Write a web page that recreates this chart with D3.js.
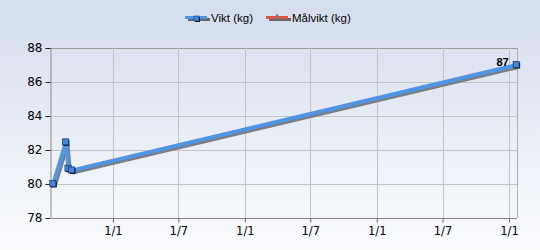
<!DOCTYPE html>
<html><head><meta charset="utf-8">
<script src="https://cdn.jsdelivr.net/npm/d3@7"></script>
<style>html,body{margin:0;padding:0;overflow:hidden}svg{display:block}</style>
</head><body>
<svg id="c" width="540" height="250"></svg>
<script>
const seriesNames = ["Vikt (kg)", "Målvikt (kg)"];
const viktDates = ["2009-07-20", "2009-08-24", "2009-08-31", "2009-09-10", "2013-01-22"];
const viktValues = [80.0, 82.45, 80.9, 80.8, 87.0];
const malviktDates = [];
const malviktValues = [];
const yTicks = [78, 80, 82, 84, 86, 88];
const xDomain = ["2009-07-11", "2013-01-23"];

const parse = d3.timeParse("%Y-%m-%d");
const vikt = viktDates.map((d, i) => ({date: parse(d), value: viktValues[i]}));

const svg = d3.select("#c");
const W = 540, H = 250;
const m = {left: 50, right: 23, top: 48, bottom: 32};
const defs = svg.append("defs");
const g1 = defs.append("linearGradient").attr("id", "bg").attr("x1", 0).attr("y1", 0).attr("x2", 0).attr("y2", 1);
g1.append("stop").attr("offset", "0%").attr("stop-color", "#d3ddee");
g1.append("stop").attr("offset", "100%").attr("stop-color", "#fbfcfe");
svg.append("rect").attr("width", W).attr("height", H).attr("fill", "url(#bg)");

const x = d3.scaleTime().domain(xDomain.map(parse)).range([m.left, W - m.right]);
const y = d3.scaleLinear().domain([78, 88]).range([H - m.bottom, m.top]);

const xTicks = d3.timeMonth.every(6).range(parse(xDomain[0]), parse(xDomain[1]));
const tickFont = "DejaVu Sans, Verdana, sans-serif";

// grid
svg.append("g").selectAll("line").data(yTicks.slice(1)).join("line")
  .attr("x1", m.left).attr("x2", W - m.right)
  .attr("y1", d => y(d) + 0.5).attr("y2", d => y(d) + 0.5)
  .attr("stroke", d => d === 88 ? "#9a9a9a" : "#c4c4c4").attr("stroke-width", 1);
svg.append("g").selectAll("line").data(xTicks).join("line")
  .attr("x1", d => Math.round(x(d)) + 0.5).attr("x2", d => Math.round(x(d)) + 0.5)
  .attr("y1", m.top).attr("y2", H - m.bottom)
  .attr("stroke", "#c4c4c4");
// right border
svg.append("line").attr("x1", W - m.right + 0.5).attr("x2", W - m.right + 0.5)
  .attr("y1", m.top).attr("y2", H - m.bottom).attr("stroke", "#b0b0b0");

// axes
const yAxis = d3.axisLeft(y).tickValues(yTicks).tickSize(5).tickPadding(3);
const ya = svg.append("g").attr("transform", `translate(${m.left + 0.5},0)`).call(yAxis);
ya.select(".domain").attr("stroke", "#888");
ya.selectAll(".tick line").attr("stroke", "#222");
ya.selectAll("text").attr("font-family", tickFont).attr("font-size", 12).attr("fill", "#000");

const xAxis = d3.axisBottom(x).tickValues(xTicks).tickFormat(d3.timeFormat("%-d/%-m")).tickSize(4).tickPadding(4);
const xa = svg.append("g").attr("transform", `translate(0,${H - m.bottom + 0.5})`).call(xAxis);
xa.select(".domain").attr("stroke", "#888").attr("d", `M${m.left},0H${W - m.right}`);
xa.selectAll(".tick line").attr("stroke", "#666");
xa.selectAll("text").attr("font-family", tickFont).attr("font-size", 11.5).attr("fill", "#000");

// line
const line = d3.line().x(d => x(d.date)).y(d => y(d.value));
svg.append("path").datum(vikt).attr("d", line).attr("fill", "none")
  .attr("stroke", "#7d7d7d").attr("stroke-width", 4).attr("stroke-linejoin", "round")
  .attr("transform", "translate(1.5,2)");
svg.append("path").datum(vikt).attr("d", line).attr("fill", "none")
  .attr("stroke", "#4f95e6").attr("stroke-width", 4).attr("stroke-linejoin", "round");

// markers
const mk = svg.append("g");
mk.selectAll("rect.s").data(vikt).join("rect").attr("class", "s")
  .attr("x", d => x(d.date) - 2.5).attr("y", d => y(d.value) - 2.5).attr("width", 6).attr("height", 6)
  .attr("fill", "#111");
mk.selectAll("rect.m").data(vikt).join("rect").attr("class", "m")
  .attr("x", d => x(d.date) - 3.5).attr("y", d => y(d.value) - 3.5).attr("width", 6).attr("height", 6)
  .attr("fill", "#3f86dc").attr("stroke", "#1c3f75").attr("stroke-width", 0.8);

// data label for last point
const last = vikt[vikt.length - 1];
svg.append("text").attr("x", x(last.date) - 8).attr("y", y(last.value) + 1)
  .attr("text-anchor", "end").attr("font-family", "Liberation Sans, Arial, sans-serif")
  .attr("font-size", 11).attr("font-weight", "bold").attr("fill", "#000").text(Math.round(last.value));

// legend
const colors = ["#4f95e6", "#e0523f"];
const legX = [185, 266];
const lg = svg.append("g");
seriesNames.forEach((n, i) => {
  const gx = legX[i], gy = 18;
  lg.append("rect").attr("x", gx + 3).attr("y", gy).attr("width", 22).attr("height", 3).attr("fill", "#666");
  lg.append("rect").attr("x", gx).attr("y", gy - 2).attr("width", 22).attr("height", 3).attr("fill", colors[i]);
  if (i === 0) {
    lg.append("rect").attr("x", gx + 10).attr("y", gy - 1).attr("width", 5).attr("height", 5).attr("fill", "#111");
    lg.append("rect").attr("x", gx + 9).attr("y", gy - 2).attr("width", 5).attr("height", 5).attr("fill", "#3f86dc").attr("stroke", "#1c3f75").attr("stroke-width", 0.6);
  } else {
    lg.append("path").attr("d", `M${gx + 11},${gy - 4}L${gx + 14},${gy + 1}L${gx + 8},${gy + 1}Z`).attr("fill", "#c06060").attr("stroke", "#777").attr("stroke-width", 0.6);
  }
  lg.append("text").attr("x", gx + 26).attr("y", gy + 4).attr("font-family", "Liberation Sans, Arial, sans-serif")
    .attr("font-size", 11.5).attr("fill", "#000").text(n);
});
</script>
</body></html>
